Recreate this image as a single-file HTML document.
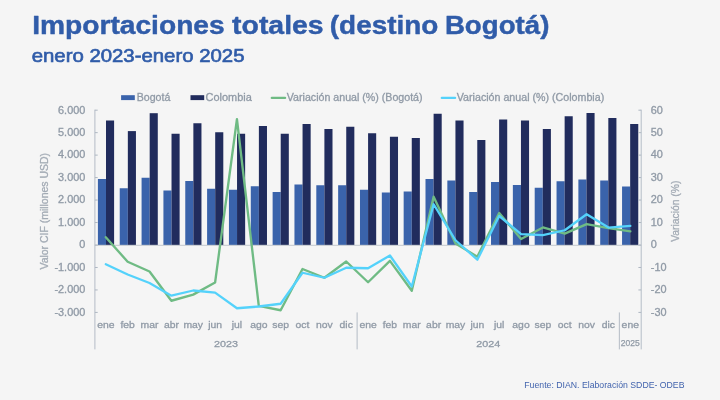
<!DOCTYPE html>
<html lang="es"><head><meta charset="utf-8"><title>Importaciones totales (destino Bogotá)</title>
<style>
html,body{margin:0;padding:0;background:#f5f5f5;}
body{width:720px;height:400px;overflow:hidden;font-family:"Liberation Sans",Arial,sans-serif;}
svg{display:block;font-family:"Liberation Sans",Arial,sans-serif;}
</style></head><body>
<svg width="720" height="400" viewBox="0 0 720 400">
<rect width="720" height="400" fill="#f5f5f5"/>
<text id="title" y="34.4" font-size="26.3" font-weight="bold" fill="#305ca9" stroke="#305ca9" stroke-width="0.45" stroke-linejoin="round"><tspan x="32.2" textLength="192.5" lengthAdjust="spacingAndGlyphs">Importaciones</tspan> <tspan x="232.1" textLength="91.5" lengthAdjust="spacingAndGlyphs">totales</tspan> <tspan x="329.8" textLength="108.5" lengthAdjust="spacingAndGlyphs">(destino</tspan> <tspan x="444.9" textLength="104.5" lengthAdjust="spacingAndGlyphs">Bogotá)</tspan></text>
<text id="sub" x="31.7" y="62.3" font-size="18.5" fill="#305ca9" stroke="#305ca9" stroke-width="0.65" textLength="212.8" lengthAdjust="spacingAndGlyphs">enero 2023-enero 2025</text>
<rect x="121.1" y="95.2" width="13.7" height="4.9" fill="#3a63ab"/>
<text x="136.7" y="100.6" font-size="10.4" fill="#909aa6" stroke="#909aa6" stroke-width="0.3" textLength="33.6" lengthAdjust="spacingAndGlyphs">Bogotá</text>\n<rect x="190.5" y="95.2" width="13.7" height="4.9" fill="#212c5d"/>
<text x="205.6" y="100.6" font-size="10.4" fill="#909aa6" stroke="#909aa6" stroke-width="0.3" textLength="46.2" lengthAdjust="spacingAndGlyphs">Colombia</text>\n<line x1="271.8" y1="97.9" x2="285.1" y2="97.9" stroke="#6fbb84" stroke-width="2.3" stroke-linecap="round"/>
<text x="286.8" y="100.6" font-size="10.4" fill="#909aa6" stroke="#909aa6" stroke-width="0.3" textLength="135.8" lengthAdjust="spacingAndGlyphs">Variación anual (%) (Bogotá)</text>\n<line x1="441.8" y1="97.9" x2="455.1" y2="97.9" stroke="#54d2fb" stroke-width="2.3" stroke-linecap="round"/>
<text x="456.8" y="100.6" font-size="10.4" fill="#909aa6" stroke="#909aa6" stroke-width="0.3" textLength="147.4" lengthAdjust="spacingAndGlyphs">Variación anual (%) (Colombia)</text>\n<g shape-rendering="auto">
<rect x="97.90" y="179.00" width="8.1" height="66.00" fill="#3a63ab"/><rect x="106.00" y="120.50" width="8.1" height="124.50" fill="#212c5d"/>
<rect x="119.74" y="188.25" width="8.1" height="56.75" fill="#3a63ab"/><rect x="127.84" y="131.10" width="8.1" height="113.90" fill="#212c5d"/>
<rect x="141.58" y="177.75" width="8.1" height="67.25" fill="#3a63ab"/><rect x="149.68" y="113.20" width="8.1" height="131.80" fill="#212c5d"/>
<rect x="163.42" y="190.50" width="8.1" height="54.50" fill="#3a63ab"/><rect x="171.52" y="133.75" width="8.1" height="111.25" fill="#212c5d"/>
<rect x="185.26" y="181.00" width="8.1" height="64.00" fill="#3a63ab"/><rect x="193.36" y="123.25" width="8.1" height="121.75" fill="#212c5d"/>
<rect x="207.10" y="188.75" width="8.1" height="56.25" fill="#3a63ab"/><rect x="215.20" y="132.25" width="8.1" height="112.75" fill="#212c5d"/>
<rect x="228.94" y="189.75" width="8.1" height="55.25" fill="#3a63ab"/><rect x="237.04" y="133.75" width="8.1" height="111.25" fill="#212c5d"/>
<rect x="250.78" y="186.25" width="8.1" height="58.75" fill="#3a63ab"/><rect x="258.88" y="126.00" width="8.1" height="119.00" fill="#212c5d"/>
<rect x="272.62" y="192.00" width="8.1" height="53.00" fill="#3a63ab"/><rect x="280.72" y="133.75" width="8.1" height="111.25" fill="#212c5d"/>
<rect x="294.46" y="184.50" width="8.1" height="60.50" fill="#3a63ab"/><rect x="302.56" y="124.00" width="8.1" height="121.00" fill="#212c5d"/>
<rect x="316.30" y="185.25" width="8.1" height="59.75" fill="#3a63ab"/><rect x="324.40" y="129.00" width="8.1" height="116.00" fill="#212c5d"/>
<rect x="338.14" y="185.25" width="8.1" height="59.75" fill="#3a63ab"/><rect x="346.24" y="126.75" width="8.1" height="118.25" fill="#212c5d"/>
<rect x="359.98" y="189.75" width="8.1" height="55.25" fill="#3a63ab"/><rect x="368.08" y="133.25" width="8.1" height="111.75" fill="#212c5d"/>
<rect x="381.82" y="192.50" width="8.1" height="52.50" fill="#3a63ab"/><rect x="389.92" y="136.75" width="8.1" height="108.25" fill="#212c5d"/>
<rect x="403.66" y="191.50" width="8.1" height="53.50" fill="#3a63ab"/><rect x="411.76" y="138.00" width="8.1" height="107.00" fill="#212c5d"/>
<rect x="425.50" y="179.00" width="8.1" height="66.00" fill="#3a63ab"/><rect x="433.60" y="113.75" width="8.1" height="131.25" fill="#212c5d"/>
<rect x="447.34" y="180.50" width="8.1" height="64.50" fill="#3a63ab"/><rect x="455.44" y="120.50" width="8.1" height="124.50" fill="#212c5d"/>
<rect x="469.18" y="192.00" width="8.1" height="53.00" fill="#3a63ab"/><rect x="477.28" y="140.00" width="8.1" height="105.00" fill="#212c5d"/>
<rect x="491.02" y="182.00" width="8.1" height="63.00" fill="#3a63ab"/><rect x="499.12" y="119.50" width="8.1" height="125.50" fill="#212c5d"/>
<rect x="512.86" y="185.00" width="8.1" height="60.00" fill="#3a63ab"/><rect x="520.96" y="120.50" width="8.1" height="124.50" fill="#212c5d"/>
<rect x="534.70" y="187.75" width="8.1" height="57.25" fill="#3a63ab"/><rect x="542.80" y="129.00" width="8.1" height="116.00" fill="#212c5d"/>
<rect x="556.54" y="181.25" width="8.1" height="63.75" fill="#3a63ab"/><rect x="564.64" y="116.25" width="8.1" height="128.75" fill="#212c5d"/>
<rect x="578.38" y="179.50" width="8.1" height="65.50" fill="#3a63ab"/><rect x="586.48" y="113.00" width="8.1" height="132.00" fill="#212c5d"/>
<rect x="600.22" y="180.50" width="8.1" height="64.50" fill="#3a63ab"/><rect x="608.32" y="118.00" width="8.1" height="127.00" fill="#212c5d"/>
<rect x="622.06" y="186.50" width="8.1" height="58.50" fill="#3a63ab"/><rect x="630.16" y="124.00" width="8.1" height="121.00" fill="#212c5d"/>
</g>
<line x1="94.9" y1="245.3" x2="641.2" y2="245.3" stroke="#c2c7ce" stroke-width="1"/>
<line x1="94.9" y1="109.68" x2="94.9" y2="349.4" stroke="#aeb7c2" stroke-width="0.9"/>
<line x1="641.2" y1="109.68" x2="641.2" y2="349.4" stroke="#aeb7c2" stroke-width="0.9"/>
<line x1="94.9" y1="110.18" x2="97.7" y2="110.18" stroke="#aeb7c2" stroke-width="1"/><line x1="638.4000000000001" y1="110.18" x2="641.2" y2="110.18" stroke="#aeb7c2" stroke-width="1"/>
<text transform="translate(85.30,113.53) scale(1.09,1)" font-size="10" fill="#909aa6" stroke="#909aa6" stroke-width="0.3" text-anchor="end">6.000</text><text transform="translate(650.80,113.53) scale(1.09,1)" font-size="10" fill="#909aa6" stroke="#909aa6" stroke-width="0.3" text-anchor="start">60</text>
<line x1="94.9" y1="132.65" x2="97.7" y2="132.65" stroke="#aeb7c2" stroke-width="1"/><line x1="638.4000000000001" y1="132.65" x2="641.2" y2="132.65" stroke="#aeb7c2" stroke-width="1"/>
<text transform="translate(85.30,136.00) scale(1.09,1)" font-size="10" fill="#909aa6" stroke="#909aa6" stroke-width="0.3" text-anchor="end">5.000</text><text transform="translate(650.80,136.00) scale(1.09,1)" font-size="10" fill="#909aa6" stroke="#909aa6" stroke-width="0.3" text-anchor="start">50</text>
<line x1="94.9" y1="155.12" x2="97.7" y2="155.12" stroke="#aeb7c2" stroke-width="1"/><line x1="638.4000000000001" y1="155.12" x2="641.2" y2="155.12" stroke="#aeb7c2" stroke-width="1"/>
<text transform="translate(85.30,158.47) scale(1.09,1)" font-size="10" fill="#909aa6" stroke="#909aa6" stroke-width="0.3" text-anchor="end">4.000</text><text transform="translate(650.80,158.47) scale(1.09,1)" font-size="10" fill="#909aa6" stroke="#909aa6" stroke-width="0.3" text-anchor="start">40</text>
<line x1="94.9" y1="177.59" x2="97.7" y2="177.59" stroke="#aeb7c2" stroke-width="1"/><line x1="638.4000000000001" y1="177.59" x2="641.2" y2="177.59" stroke="#aeb7c2" stroke-width="1"/>
<text transform="translate(85.30,180.94) scale(1.09,1)" font-size="10" fill="#909aa6" stroke="#909aa6" stroke-width="0.3" text-anchor="end">3.000</text><text transform="translate(650.80,180.94) scale(1.09,1)" font-size="10" fill="#909aa6" stroke="#909aa6" stroke-width="0.3" text-anchor="start">30</text>
<line x1="94.9" y1="200.06" x2="97.7" y2="200.06" stroke="#aeb7c2" stroke-width="1"/><line x1="638.4000000000001" y1="200.06" x2="641.2" y2="200.06" stroke="#aeb7c2" stroke-width="1"/>
<text transform="translate(85.30,203.41) scale(1.09,1)" font-size="10" fill="#909aa6" stroke="#909aa6" stroke-width="0.3" text-anchor="end">2.000</text><text transform="translate(650.80,203.41) scale(1.09,1)" font-size="10" fill="#909aa6" stroke="#909aa6" stroke-width="0.3" text-anchor="start">20</text>
<line x1="94.9" y1="222.53" x2="97.7" y2="222.53" stroke="#aeb7c2" stroke-width="1"/><line x1="638.4000000000001" y1="222.53" x2="641.2" y2="222.53" stroke="#aeb7c2" stroke-width="1"/>
<text transform="translate(85.30,225.88) scale(1.09,1)" font-size="10" fill="#909aa6" stroke="#909aa6" stroke-width="0.3" text-anchor="end">1.000</text><text transform="translate(650.80,225.88) scale(1.09,1)" font-size="10" fill="#909aa6" stroke="#909aa6" stroke-width="0.3" text-anchor="start">10</text>
<line x1="94.9" y1="245.00" x2="97.7" y2="245.00" stroke="#aeb7c2" stroke-width="1"/><line x1="638.4000000000001" y1="245.00" x2="641.2" y2="245.00" stroke="#aeb7c2" stroke-width="1"/>
<text transform="translate(85.30,248.35) scale(1.09,1)" font-size="10" fill="#909aa6" stroke="#909aa6" stroke-width="0.3" text-anchor="end">0</text><text transform="translate(650.80,248.35) scale(1.09,1)" font-size="10" fill="#909aa6" stroke="#909aa6" stroke-width="0.3" text-anchor="start">0</text>
<line x1="94.9" y1="267.47" x2="97.7" y2="267.47" stroke="#aeb7c2" stroke-width="1"/><line x1="638.4000000000001" y1="267.47" x2="641.2" y2="267.47" stroke="#aeb7c2" stroke-width="1"/>
<text transform="translate(85.30,270.82) scale(1.09,1)" font-size="10" fill="#909aa6" stroke="#909aa6" stroke-width="0.3" text-anchor="end">-1.000</text><text transform="translate(650.80,270.82) scale(1.09,1)" font-size="10" fill="#909aa6" stroke="#909aa6" stroke-width="0.3" text-anchor="start">-10</text>
<line x1="94.9" y1="289.94" x2="97.7" y2="289.94" stroke="#aeb7c2" stroke-width="1"/><line x1="638.4000000000001" y1="289.94" x2="641.2" y2="289.94" stroke="#aeb7c2" stroke-width="1"/>
<text transform="translate(85.30,293.29) scale(1.09,1)" font-size="10" fill="#909aa6" stroke="#909aa6" stroke-width="0.3" text-anchor="end">-2.000</text><text transform="translate(650.80,293.29) scale(1.09,1)" font-size="10" fill="#909aa6" stroke="#909aa6" stroke-width="0.3" text-anchor="start">-20</text>
<line x1="94.9" y1="312.41" x2="97.7" y2="312.41" stroke="#aeb7c2" stroke-width="1"/><line x1="638.4000000000001" y1="312.41" x2="641.2" y2="312.41" stroke="#aeb7c2" stroke-width="1"/>
<text transform="translate(85.30,315.76) scale(1.09,1)" font-size="10" fill="#909aa6" stroke="#909aa6" stroke-width="0.3" text-anchor="end">-3.000</text><text transform="translate(650.80,315.76) scale(1.09,1)" font-size="10" fill="#909aa6" stroke="#909aa6" stroke-width="0.3" text-anchor="start">-30</text>
<line x1="357.12" y1="312.41" x2="357.12" y2="349.4" stroke="#a9b2bd" stroke-width="0.85"/>
<line x1="619.35" y1="312.41" x2="619.35" y2="349.4" stroke="#a9b2bd" stroke-width="0.85"/>
<text transform="translate(105.83,328.20) scale(1.07,1)" font-size="9.7" fill="#909aa6" stroke="#909aa6" stroke-width="0.3" text-anchor="middle">ene</text><text transform="translate(127.68,328.20) scale(1.07,1)" font-size="9.7" fill="#909aa6" stroke="#909aa6" stroke-width="0.3" text-anchor="middle">feb</text><text transform="translate(149.53,328.20) scale(1.07,1)" font-size="9.7" fill="#909aa6" stroke="#909aa6" stroke-width="0.3" text-anchor="middle">mar</text><text transform="translate(171.38,328.20) scale(1.07,1)" font-size="9.7" fill="#909aa6" stroke="#909aa6" stroke-width="0.3" text-anchor="middle">abr</text><text transform="translate(193.23,328.20) scale(1.07,1)" font-size="9.7" fill="#909aa6" stroke="#909aa6" stroke-width="0.3" text-anchor="middle">may</text><text transform="translate(215.09,328.20) scale(1.07,1)" font-size="9.7" fill="#909aa6" stroke="#909aa6" stroke-width="0.3" text-anchor="middle">jun</text><text transform="translate(236.94,328.20) scale(1.07,1)" font-size="9.7" fill="#909aa6" stroke="#909aa6" stroke-width="0.3" text-anchor="middle">jul</text><text transform="translate(258.79,328.20) scale(1.07,1)" font-size="9.7" fill="#909aa6" stroke="#909aa6" stroke-width="0.3" text-anchor="middle">ago</text><text transform="translate(280.64,328.20) scale(1.07,1)" font-size="9.7" fill="#909aa6" stroke="#909aa6" stroke-width="0.3" text-anchor="middle">sep</text><text transform="translate(302.49,328.20) scale(1.07,1)" font-size="9.7" fill="#909aa6" stroke="#909aa6" stroke-width="0.3" text-anchor="middle">oct</text><text transform="translate(324.35,328.20) scale(1.07,1)" font-size="9.7" fill="#909aa6" stroke="#909aa6" stroke-width="0.3" text-anchor="middle">nov</text><text transform="translate(346.20,328.20) scale(1.07,1)" font-size="9.7" fill="#909aa6" stroke="#909aa6" stroke-width="0.3" text-anchor="middle">dic</text><text transform="translate(368.05,328.20) scale(1.07,1)" font-size="9.7" fill="#909aa6" stroke="#909aa6" stroke-width="0.3" text-anchor="middle">ene</text><text transform="translate(389.90,328.20) scale(1.07,1)" font-size="9.7" fill="#909aa6" stroke="#909aa6" stroke-width="0.3" text-anchor="middle">feb</text><text transform="translate(411.75,328.20) scale(1.07,1)" font-size="9.7" fill="#909aa6" stroke="#909aa6" stroke-width="0.3" text-anchor="middle">mar</text><text transform="translate(433.61,328.20) scale(1.07,1)" font-size="9.7" fill="#909aa6" stroke="#909aa6" stroke-width="0.3" text-anchor="middle">abr</text><text transform="translate(455.46,328.20) scale(1.07,1)" font-size="9.7" fill="#909aa6" stroke="#909aa6" stroke-width="0.3" text-anchor="middle">may</text><text transform="translate(477.31,328.20) scale(1.07,1)" font-size="9.7" fill="#909aa6" stroke="#909aa6" stroke-width="0.3" text-anchor="middle">jun</text><text transform="translate(499.16,328.20) scale(1.07,1)" font-size="9.7" fill="#909aa6" stroke="#909aa6" stroke-width="0.3" text-anchor="middle">jul</text><text transform="translate(521.01,328.20) scale(1.07,1)" font-size="9.7" fill="#909aa6" stroke="#909aa6" stroke-width="0.3" text-anchor="middle">ago</text><text transform="translate(542.87,328.20) scale(1.07,1)" font-size="9.7" fill="#909aa6" stroke="#909aa6" stroke-width="0.3" text-anchor="middle">sep</text><text transform="translate(564.72,328.20) scale(1.07,1)" font-size="9.7" fill="#909aa6" stroke="#909aa6" stroke-width="0.3" text-anchor="middle">oct</text><text transform="translate(586.57,328.20) scale(1.07,1)" font-size="9.7" fill="#909aa6" stroke="#909aa6" stroke-width="0.3" text-anchor="middle">nov</text><text transform="translate(608.42,328.20) scale(1.07,1)" font-size="9.7" fill="#909aa6" stroke="#909aa6" stroke-width="0.3" text-anchor="middle">dic</text><text transform="translate(630.27,328.20) scale(1.07,1)" font-size="9.7" fill="#909aa6" stroke="#909aa6" stroke-width="0.3" text-anchor="middle">ene</text>
<text transform="translate(226.01,346.80) scale(1.11,1)" font-size="9.7" fill="#909aa6" stroke="#909aa6" stroke-width="0.3" text-anchor="middle">2023</text>
<text transform="translate(488.24,346.80) scale(1.11,1)" font-size="9.7" fill="#909aa6" stroke="#909aa6" stroke-width="0.3" text-anchor="middle">2024</text>
<text transform="translate(630.27,346.00)" font-size="8.5" fill="#909aa6" stroke="#909aa6" stroke-width="0.25" text-anchor="middle">2025</text>
<text transform="translate(47.60,211.30) rotate(-90) scale(1.045,1)" font-size="10" fill="#a3abb5" stroke="#a3abb5" stroke-width="0.3" text-anchor="middle">Valor CIF (millones USD)</text>
<text transform="translate(678.80,211.20) rotate(-90) scale(1.035,1)" font-size="10" fill="#a3abb5" stroke="#a3abb5" stroke-width="0.3" text-anchor="middle">Variación (%)</text>
<polyline points="105.80,237.25 127.66,261.75 149.51,271.50 171.37,300.75 193.22,294.65 215.08,282.55 236.94,119.25 258.79,305.85 280.65,310.25 302.50,269.00 324.36,277.75 346.22,261.50 368.07,282.25 389.93,260.85 411.78,290.75 433.64,196.65 455.50,243.45 477.35,256.65 499.21,213.05 521.06,239.05 542.92,227.45 564.78,233.55 586.63,224.05 608.49,228.05 630.34,231.35" fill="none" stroke="#6fbb84" stroke-width="2.35" stroke-linejoin="round" stroke-linecap="round"/>
<polyline points="105.80,264.25 127.66,274.50 149.51,283.00 171.37,295.65 193.22,290.50 215.08,292.65 236.94,308.25 258.79,306.50 280.65,303.75 302.50,272.75 324.36,277.75 346.22,267.75 368.07,268.25 389.93,255.50 411.78,286.50 433.64,204.25 455.50,240.25 477.35,259.75 499.21,216.00 521.06,234.15 542.92,235.05 564.78,230.25 586.63,214.25 608.49,227.55 630.34,225.85" fill="none" stroke="#54d2fb" stroke-width="2.3" stroke-linejoin="round" stroke-linecap="round"/>
<text x="524.3" y="388.0" font-size="9" fill="#4163ad" textLength="160.2" lengthAdjust="spacingAndGlyphs">Fuente: DIAN. Elaboración SDDE- ODEB</text>
</svg>
</body></html>
